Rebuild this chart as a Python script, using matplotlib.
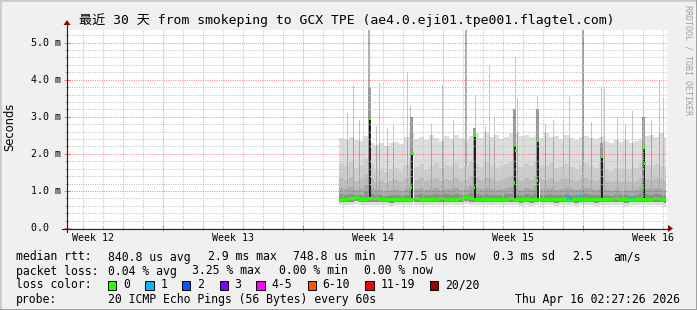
import numpy as np
import matplotlib.pyplot as plt
from matplotlib.patches import Rectangle, Polygon
from matplotlib.lines import Line2D
from matplotlib.transforms import blended_transform_factory

W, H = 697, 310
MONO = ['DejaVu Sans Mono', 'Noto Sans CJK SC']

# ---- data: time in days from the left edge of the graph, rtt in ms ----
t_first = 13.6
t_last = 29.93
step = 0.25

smoke_top = [2.42, 2.40, 2.46, 2.38, 2.35, 2.48, 2.30, 2.25, 2.30, 2.20,
             2.28, 2.32, 2.26, 2.45, 2.60, 2.40, 2.45, 2.38, 2.50, 2.42,
             2.35, 2.47, 2.40, 2.52, 2.44, 2.38, 2.48, 2.55, 2.42, 2.58,
             2.45, 2.50, 2.40, 2.45, 2.55, 2.58, 2.48, 2.52, 2.45, 2.50,
             2.42, 2.55, 2.45, 2.48, 2.40, 2.50, 2.44, 2.38, 2.45, 2.48,
             2.42, 2.40, 2.46, 2.35, 2.30, 2.38, 2.32, 2.36, 2.30, 2.34,
             2.40, 2.48, 2.52, 2.45, 2.55, 2.45]
smoke_b1 = [1.75, 1.68, 1.80, 1.62, 1.70, 1.85, 1.72, 1.55, 1.60, 1.52,
            1.58, 1.62, 1.55, 1.70, 1.90, 1.65, 1.72, 1.60, 1.68, 1.75,
            1.62, 1.70, 1.66, 1.74, 1.60, 1.68, 1.80, 1.72, 1.65, 1.78,
            1.70, 1.62, 1.66, 1.72, 1.78, 1.70, 1.64, 1.75, 1.68, 1.82,
            1.70, 1.66, 1.74, 1.62, 1.68, 1.72, 1.65, 1.60, 1.70, 1.74,
            1.66, 1.62, 1.72, 1.58, 1.55, 1.62, 1.58, 1.60, 1.56, 1.62,
            1.75, 1.70, 1.66, 1.72, 1.68, 1.64]
smoke_b2 = [1.35, 1.30, 1.38, 1.28, 1.32, 1.45, 1.35, 1.25, 1.28, 1.22,
            1.26, 1.30, 1.24, 1.32, 1.50, 1.30, 1.34, 1.28, 1.32, 1.36,
            1.28, 1.33, 1.30, 1.35, 1.27, 1.30, 1.40, 1.34, 1.30, 1.36,
            1.32, 1.28, 1.30, 1.34, 1.38, 1.32, 1.28, 1.35, 1.30, 1.40,
            1.32, 1.30, 1.35, 1.28, 1.31, 1.34, 1.30, 1.27, 1.32, 1.35,
            1.30, 1.28, 1.34, 1.26, 1.24, 1.28, 1.25, 1.27, 1.24, 1.28,
            1.36, 1.32, 1.30, 1.34, 1.31, 1.28]
smoke_b3 = [1.08, 1.05, 1.10, 1.03, 1.06, 1.15, 1.08, 1.02, 1.03, 1.00,
            1.02, 1.04, 1.01, 1.06, 1.20, 1.05, 1.07, 1.03, 1.06, 1.08,
            1.03, 1.06, 1.04, 1.07, 1.02, 1.05, 1.12, 1.07, 1.04, 1.08,
            1.05, 1.03, 1.04, 1.07, 1.10, 1.05, 1.03, 1.08, 1.04, 1.12,
            1.05, 1.04, 1.07, 1.03, 1.05, 1.07, 1.04, 1.02, 1.05, 1.07,
            1.04, 1.03, 1.06, 1.02, 1.00, 1.03, 1.01, 1.02, 1.00, 1.03,
            1.10, 1.06, 1.04, 1.07, 1.05, 1.03]
smoke_b4 = [0.91, 0.90, 0.93, 0.89, 0.90, 0.96, 0.92, 0.88, 0.89, 0.87,
            0.88, 0.89, 0.87, 0.90, 1.00, 0.90, 0.91, 0.89, 0.90, 0.92,
            0.89, 0.91, 0.89, 0.91, 0.88, 0.90, 0.95, 0.91, 0.89, 0.92,
            0.90, 0.89, 0.89, 0.91, 0.93, 0.90, 0.88, 0.92, 0.89, 0.95,
            0.90, 0.89, 0.91, 0.88, 0.90, 0.91, 0.89, 0.88, 0.90, 0.91,
            0.89, 0.88, 0.91, 0.88, 0.87, 0.89, 0.88, 0.88, 0.87, 0.89,
            0.94, 0.91, 0.89, 0.91, 0.90, 0.88]
median_rtt = [0.77, 0.78, 0.80, 0.82, 0.78, 0.77, 0.80, 0.79, 0.77, 0.76,
              0.76, 0.77, 0.76, 0.77, 0.78, 0.79, 0.78, 0.77, 0.78, 0.77,
              0.79, 0.78, 0.77, 0.78, 0.80, 0.83, 0.80, 0.77, 0.78, 0.77,
              0.78, 0.77, 0.77, 0.78, 0.79, 0.77, 0.76, 0.77, 0.76, 0.76,
              0.77, 0.78, 0.77, 0.76, 0.77, 0.78, 0.77, 0.76, 0.77, 0.78,
              0.77, 0.76, 0.77, 0.78, 0.77, 0.79, 0.77, 0.76, 0.77, 0.78,
              0.77, 0.77, 0.78, 0.80, 0.77, 0.76]
smoke_low = [0.70, 0.70, 0.71, 0.72, 0.70, 0.69, 0.71, 0.70, 0.69, 0.69,
             0.68, 0.69, 0.69, 0.70, 0.70, 0.71, 0.70, 0.70, 0.70, 0.69,
             0.70, 0.70, 0.69, 0.70, 0.71, 0.73, 0.71, 0.69, 0.70, 0.69,
             0.70, 0.69, 0.69, 0.70, 0.71, 0.69, 0.68, 0.69, 0.68, 0.69,
             0.69, 0.70, 0.69, 0.68, 0.69, 0.70, 0.69, 0.68, 0.69, 0.70,
             0.69, 0.68, 0.69, 0.70, 0.69, 0.70, 0.69, 0.68, 0.69, 0.70,
             0.69, 0.69, 0.70, 0.71, 0.69, 0.68]
smoke_bottom = [0.63, 0.62, 0.63, 0.64, 0.62, 0.61, 0.63, 0.62, 0.61, 0.61,
                0.60, 0.61, 0.61, 0.62, 0.62, 0.63, 0.62, 0.62, 0.62, 0.61,
                0.62, 0.62, 0.61, 0.62, 0.63, 0.65, 0.63, 0.61, 0.62, 0.61,
                0.62, 0.61, 0.61, 0.62, 0.63, 0.61, 0.60, 0.61, 0.60, 0.61,
                0.61, 0.62, 0.61, 0.60, 0.61, 0.62, 0.61, 0.60, 0.61, 0.62,
                0.61, 0.60, 0.61, 0.62, 0.61, 0.62, 0.61, 0.60, 0.61, 0.62,
                0.61, 0.61, 0.62, 0.63, 0.61, 0.60]

# single high ping columns
spike_t = [14.00, 14.30, 14.60, 15.05, 15.45, 15.60, 16.00, 16.30, 17.00, 17.15,
           17.25, 18.20, 18.75, 19.30, 19.90, 20.40, 20.90, 21.10, 21.35, 22.40,
           22.50, 23.50, 23.90, 24.30, 24.80, 25.10, 25.75, 26.20, 26.70, 26.85,
           27.50, 27.90, 28.25, 28.80, 29.20, 29.60, 29.80]
spike_top = [3.10, 3.85, 2.90, 5.50, 2.75, 3.90, 2.70, 2.80, 4.20, 3.30,
             2.95, 2.80, 3.85, 2.90, 5.50, 3.60, 2.75, 4.40, 3.00, 4.60,
             3.50, 3.60, 2.80, 2.90, 2.90, 3.55, 5.50, 2.85, 3.80, 3.75,
             3.00, 2.80, 3.15, 3.55, 2.90, 4.00, 3.50]

# columns where the median itself jumped
jump_t = [15.10, 17.20, 20.35, 22.35, 23.50, 26.70, 28.80]
jump_top = [2.94, 2.00, 2.50, 2.24, 2.37, 1.93, 2.17]
jump_smoke = [3.80, 3.00, 2.70, 3.20, 3.20, 2.30, 3.00]

# median marks off the base line, by packet loss
mark_t = [15.10, 17.15, 17.20, 17.25, 20.30, 20.35, 22.30, 22.35, 22.40,
          23.45, 23.50, 26.70, 28.75, 28.80, 28.85]
mark_rtt = [2.94, 1.10, 2.00, 2.00, 1.10, 2.50, 1.24, 2.24, 2.10,
            1.27, 2.37, 1.93, 1.10, 2.17, 1.75]
loss1_t = [25.00, 25.05, 25.10, 25.15, 25.20, 25.65, 28.15]
loss1_rtt = [0.80, 0.81, 0.81, 0.80, 0.80, 0.87, 0.83]

# no-data columns
gap_t = [17.30, 23.60]
gap_top = [1.95, 1.25]

week_labels = ['Week 12', 'Week 13', 'Week 14', 'Week 15', 'Week 16']
week_label_t = [1.3, 8.3, 15.3, 22.3, 29.3]
week_bounds = [4.8, 11.8, 18.8, 25.8]

loss_names = ['0', '1', '2', '3', '4-5', '6-10', '11-19', '20/20']
loss_colors = ['#26ff00', '#00b8ff', '#0059ff', '#7e00ff',
               '#ff00ff', '#ff5500', '#ff0000', '#a10000']

title = '最近 30 天 from smokeping to GCX TPE (ae4.0.eji01.tpe001.flagtel.com)'


def fx(x):
    return x / W


def fy(y):
    return 1 - y / H


fig = plt.figure(figsize=(W / 100, H / 100), dpi=100)
fig.patch.set_facecolor('#f0f0f0')

ax = fig.add_axes([fx(67), fy(228), 600 / W, 198 / H])
ax.set_facecolor('white')
ax.set_xlim(0, 30)
ax.set_ylim(0, 5.34)
for s in ax.spines.values():
    s.set_visible(False)

# smoke
n = len(median_rtt)
edges = t_first + step * np.arange(n + 1)
edges[-1] = min(edges[-1], t_last)


def stepped(v):
    v = np.asarray(v, dtype=float)
    return np.append(v, v[-1])


px = 0.05  # one pixel column in days
top_arr = np.asarray(smoke_top)
spike_base = top_arr[((np.asarray(spike_t) - t_first) / step).astype(int)]
tall = np.asarray(spike_top) > 5

ax.fill_between(edges, stepped(smoke_bottom), stepped(smoke_top), step='post',
                color='#dddddd', lw=0, zorder=1)
ax.bar(spike_t, np.asarray(spike_top) - 0.7, bottom=0.7,
       width=np.where(tall, 2 * px, px),
       color=np.where(tall, '#b0b0b0', '#c6c6c6'),
       align='edge', lw=0, zorder=1.1)
ax.fill_between(edges, stepped(smoke_low), stepped(smoke_b1), step='post',
                color='#cdcdcd', lw=0, zorder=1.2)
ax.fill_between(edges, stepped(smoke_low), stepped(smoke_b2), step='post',
                color='#bbbbbb', lw=0, zorder=1.3)
ax.fill_between(edges, stepped(smoke_low), stepped(smoke_b3), step='post',
                color='#a8a8a8', lw=0, zorder=1.4)
ax.fill_between(edges, stepped(smoke_low), stepped(smoke_b4), step='post',
                color='#8e8e8e', lw=0, zorder=1.5)
# spread pings make the spike columns darker inside the smoke
ax.bar(spike_t, spike_base - 0.9, bottom=0.9, width=px,
       color='#a6a6a6', align='edge', lw=0, zorder=1.55)
ax.bar(np.array(jump_t) - px, np.array(jump_smoke) - 0.8, bottom=0.8,
       width=3 * px, color='#9a9a9a', align='edge', lw=0, zorder=1.6)
ax.bar(jump_t, np.array(jump_top) - 0.8, bottom=0.8, width=2 * px,
       color='#222222', align='edge', lw=0, zorder=1.7)
ax.bar(gap_t, gap_top, width=px, color='white', align='edge', lw=0, zorder=1.8)

# grid (rrdtool draws it over the graph)
dot = dict(lw=0.75, dashes=(1, 1.2), zorder=2.5)
for k in range(30):
    d = 0.8 + k
    if all(abs(d - b) > 1e-6 for b in week_bounds):
        ax.axvline(d, color='#c4c4c4', **dot)
for b in week_bounds:
    ax.axvline(b, color='#ff0000', alpha=0.45, **dot)
for k in range(1, 27):
    v = k * 0.2
    if k % 5:
        ax.axhline(v, color='#c4c4c4', **dot)
    else:
        ax.axhline(v, color='#ff0000', alpha=0.45, **dot)

# median
ax.fill_between(edges, stepped(median_rtt) - 0.04, stepped(median_rtt) + 0.04,
                step='post', color=loss_colors[0], lw=0, zorder=3)
ax.bar(mark_t, 0.08, bottom=np.array(mark_rtt) - 0.04, width=2 * px,
       color=loss_colors[0], align='edge', lw=0, zorder=3.1)
ax.bar(loss1_t, 0.08, bottom=np.array(loss1_rtt) - 0.04, width=px,
       color=loss_colors[1], align='edge', lw=0, zorder=3.2)

# ticks
ax.set_xticks(week_bounds)
ax.set_xticks([0.8 + k for k in range(30)], minor=True)
ax.set_yticks(range(6))
ax.set_yticks(np.arange(0.2, 5.3, 0.2), minor=True)
ax.tick_params(which='major', length=4, width=0.8, color='#f08080',
               direction='inout', labelbottom=False, labelleft=False)
ax.tick_params(which='minor', length=3, width=0.8, color='#b8b8b8',
               direction='inout')

# axis lines with arrows
ax_col = '#202020'
arrow_col = '#990000'
fig.add_artist(Line2D([fx(62), fx(669)], [fy(228.5), fy(228.5)], lw=0.8, color=ax_col))
fig.add_artist(Line2D([fx(67), fx(67)], [fy(232), fy(24)], lw=0.8, color=ax_col))
fig.add_artist(Polygon([(fx(668), fy(225)), (fx(668), fy(232)), (fx(673), fy(228.5))],
                       closed=True, color=arrow_col, lw=0))
fig.add_artist(Polygon([(fx(63.5), fy(25)), (fx(70.5), fy(25)), (fx(67), fy(20))],
                       closed=True, color=arrow_col, lw=0))

# axis labels
ytr = blended_transform_factory(fig.transFigure, ax.transData)
for v in range(6):
    lab = '%d.0 m' % v if v else '0.0  '
    fig.text(fx(61), v, lab, transform=ytr, ha='right', va='center',
             family=MONO, fontsize=7.2)
xtr = blended_transform_factory(ax.transData, fig.transFigure)
for lab, t in zip(week_labels, week_label_t):
    fig.text(t, fy(238), lab, transform=xtr, ha='center', va='center',
             family=MONO, fontsize=7.2)

fig.text(fx(10), fy(127), 'Seconds', rotation=90, ha='center', va='center',
         family='DejaVu Sans', fontsize=8.3)
fig.text(fx(347), fy(20), title, ha='center', va='center', family=MONO, fontsize=9.45)
fig.text(fx(688), fy(60), 'RRDTOOL / TOBI OETIKER', rotation=270, ha='center',
         va='center', family='DejaVu Sans Mono', fontsize=6, color='#a0a0a0')

# legend
rows = [
    (257, [(16, 'median rtt:'), (107.6, '840.8 us avg'), (207.6, '2.9 ms max'),
           (293.3, '748.8 us min'), (393.3, '777.5 us now'), (493.3, '0.3 ms sd'),
           (572.4, '2.5'), (613.3, 'am/s')]),
    (271, [(16, 'packet loss:'), (107.6, '0.04 % avg'), (192, '3.25 % max'),
           (279, '0.00 % min'), (364.4, '0.00 % now')]),
    (285, [(16, 'loss color:')]),
    (299, [(16, 'probe:'), (107.6, '20 ICMP Echo Pings (56 Bytes) every 60s')]),
]
for y, items in rows:
    for x, s in items:
        fig.text(fx(x), fy(y), s, ha='left', va='center', family=MONO, fontsize=8.3)
fig.text(fx(680), fy(299), 'Thu Apr 16 02:27:26 2026', ha='right', va='center',
         family=MONO, fontsize=8.3)

box_x = [108, 145.3, 182, 219.6, 256.4, 307.6, 365.3, 429.8]
for bx, name, col in zip(box_x, loss_names, loss_colors):
    fig.add_artist(Rectangle((fx(bx), fy(289.5)), 8.4 / W, 8.4 / H,
                             transform=fig.transFigure, facecolor=col,
                             edgecolor='black', lw=0.7))
    fig.text(fx(bx + 15), fy(285), name, ha='left', va='center', family=MONO, fontsize=8.3)

# frame
fig.add_artist(Line2D([0, 0, 1], [0, 1, 1], lw=2, color='#cbcbcb'))
fig.add_artist(Line2D([0, 1, 1], [0, 0, 1], lw=2, color='#999999'))

fig.savefig('out.png', dpi=100, facecolor=fig.get_facecolor())
